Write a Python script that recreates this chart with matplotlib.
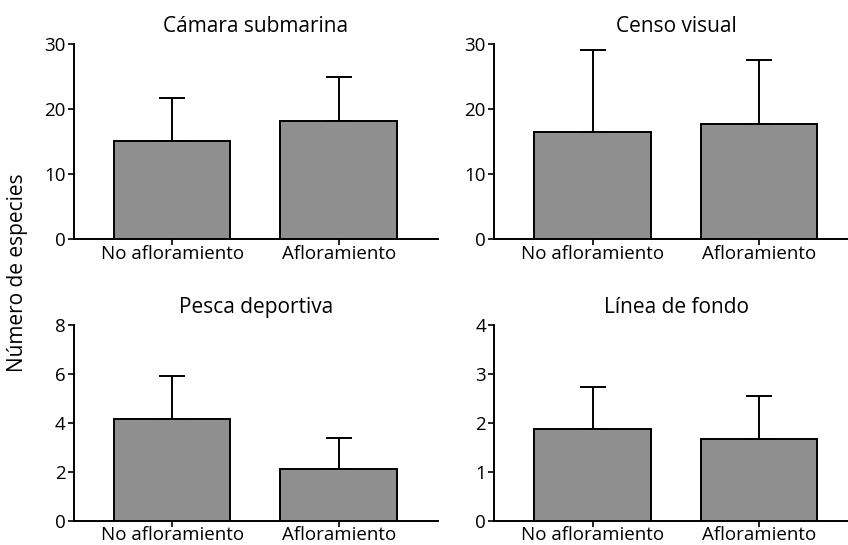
import matplotlib
matplotlib.use("Agg")
import matplotlib.pyplot as plt
import numpy as np

plt.rcParams['font.family'] = ['Open Sans', 'DejaVu Sans']

categories = ["No afloramiento", "Afloramiento"]
titles = ["Cámara submarina", "Censo visual", "Pesca deportiva", "Línea de fondo"]
means = [[15.15, 18.15], [16.5, 17.65], [4.15, 2.13], [1.87, 1.66]]
errs = [[6.55, 6.75], [12.6, 9.85], [1.78, 1.24], [0.86, 0.89]]
ymaxs = [30, 30, 8, 4]
yticks = [[0, 10, 20, 30], [0, 10, 20, 30], [0, 2, 4, 6, 8], [0, 1, 2, 3, 4]]
ylabel = "Número de especies"

W, H = 848, 545
fig = plt.figure(figsize=(W / 100, H / 100), dpi=100)

lefts = [74, 494.3, 74, 494.3]
tops = [44, 44, 325, 325]
bottoms = [239.3, 239.3, 520.7, 520.7]
aw = 363.7
x = np.arange(len(categories))

for i in range(4):
    ax = fig.add_axes([lefts[i] / W, 1 - bottoms[i] / H, aw / W, (bottoms[i] - tops[i]) / H])
    ax.bar(x, means[i], width=0.70, color='#8f8f8f', edgecolor='black', linewidth=1.4, zorder=3)
    ax.errorbar(x, means[i], yerr=[np.zeros(len(x)), errs[i]], fmt='none', ecolor='black',
                elinewidth=1.4, capsize=9.4, capthick=1.4, zorder=2)
    ax.set_xlim(-0.59, 1.595)
    ax.set_ylim(0, ymaxs[i])
    ax.set_yticks(yticks[i])
    ax.set_xticks(x)
    ax.set_xticklabels(categories)
    for s in ['top', 'right']:
        ax.spines[s].set_visible(False)
    for s in ['left', 'bottom']:
        ax.spines[s].set_linewidth(1.4)
    ax.tick_params(axis='both', labelsize=13.5, width=1.2, length=4, pad=2, colors='black')
    ax.tick_params(axis='x', pad=0)
    ax.set_title(titles[i], fontsize=15, pad=9)
    ax.patch.set_visible(False)

fig.text(18 / W, 0.5, ylabel, rotation=90, va='center', ha='center', fontsize=15)

fig.savefig("out.png", dpi=100)
